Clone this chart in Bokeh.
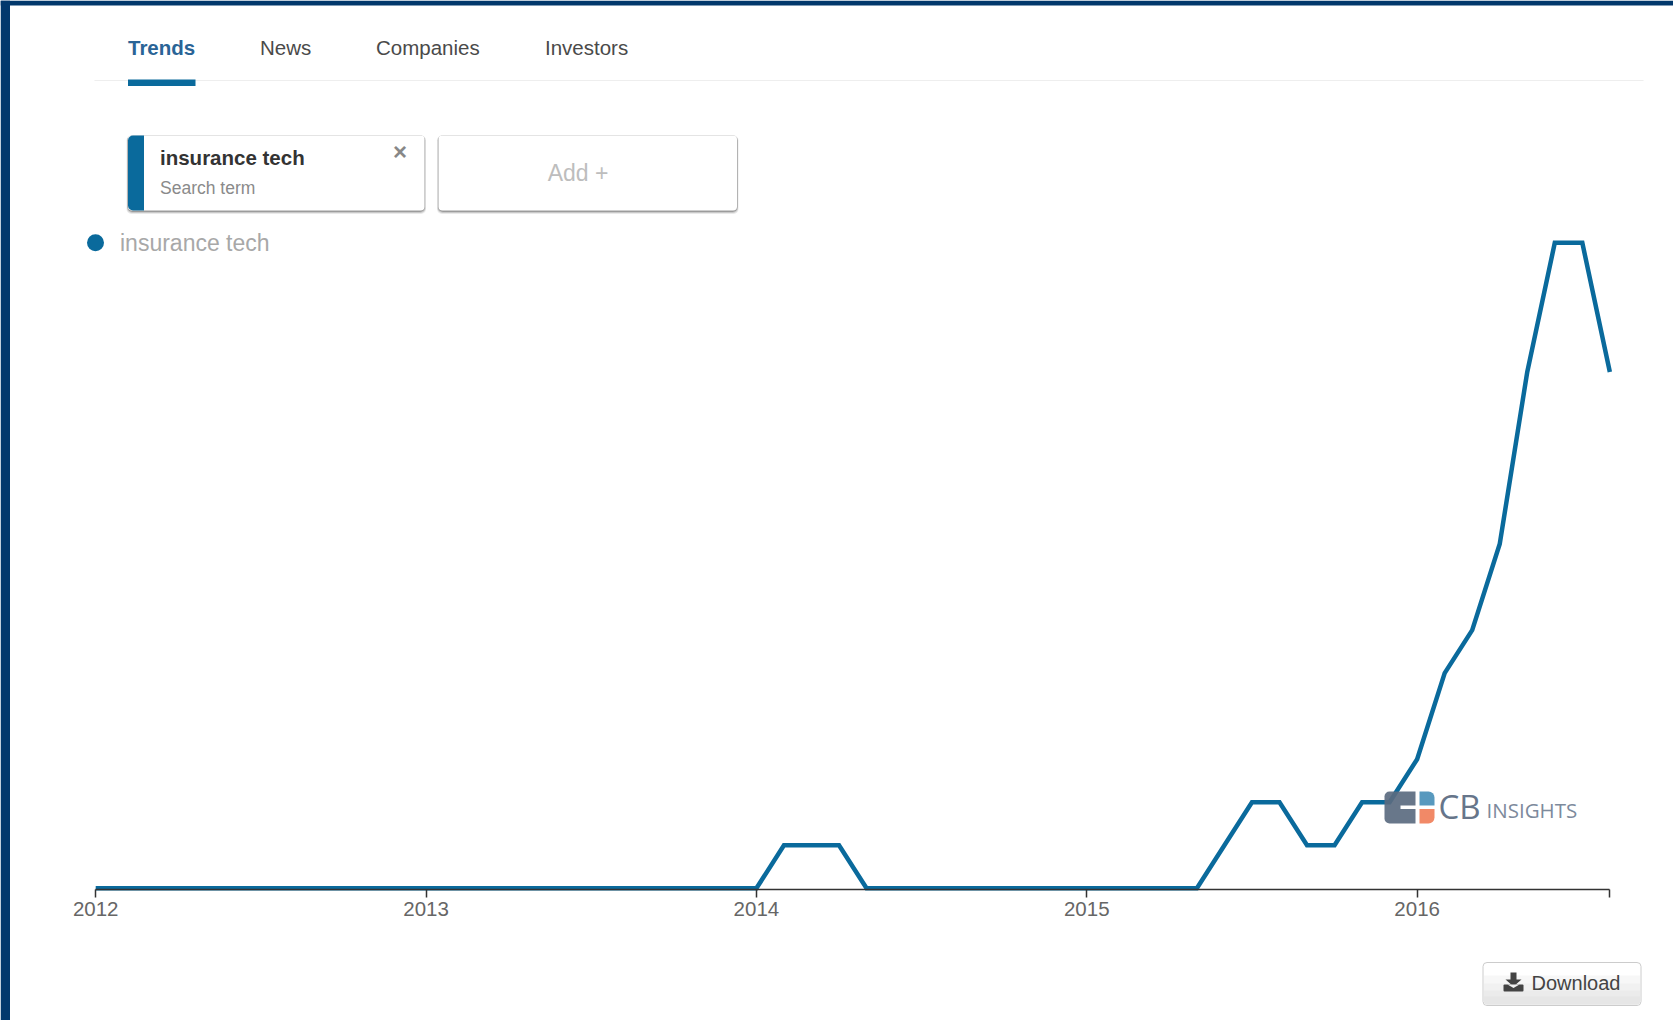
from bokeh.core.properties import value
from bokeh.embed import file_html
from bokeh.models import FixedTicker, LinearAxis, Range1d
from bokeh.plotting import figure
from bokeh.resources import INLINE

# Monthly search interest for "insurance tech", Jan 2012 to Aug 2016
interest_2012 = [0] * 12
interest_2013 = [0] * 12
interest_2014 = [0, 1, 1, 1, 0, 0, 0, 0, 0, 0, 0, 0]
interest_2015 = [0, 0, 0, 0, 0, 1, 2, 2, 1, 1, 2, 2]
interest_2016 = [3, 5, 6, 8, 12, 15, 15, 12]
interest = interest_2012 + interest_2013 + interest_2014 + interest_2015 + interest_2016
months = list(range(len(interest)))

year_labels = ["2012", "2013", "2014", "2015", "2016"]
year_ticks = [0, 12, 24, 36, 48]
series_name = "insurance tech"
nav_labels = ["Trends", "News", "Companies", "Investors"]

W, H = 1673, 1020
FONT = value("Liberation Sans")
BLUE = "#0a6a9c"
NAVY = "#02386c"

# Plot scale: pixels per month and per unit of interest
ORIGIN_X, ORIGIN_Y = 95.2, 887.8
PX_MONTH, PX_UNIT = 27.53, 43.03

p = figure(
    width=W, height=H, output_backend="svg", toolbar_location=None,
    x_axis_type=None, y_axis_type=None,
    x_range=Range1d(-ORIGIN_X / PX_MONTH, (W - ORIGIN_X) / PX_MONTH),
    y_range=Range1d((ORIGIN_Y - H) / PX_UNIT, ORIGIN_Y / PX_UNIT),
    min_border=0, outline_line_color=None, background_fill_color="#ffffff",
    border_fill_color="#ffffff",
)
p.grid.visible = False
p.extra_x_ranges["page"] = Range1d(0, W)
p.extra_y_ranges["page"] = Range1d(H, 0)
PAGE = dict(x_range_name="page", y_range_name="page")


def box(left, right, top, bottom, color, alpha=1.0, radius=0, line=None):
    p.quad(left=[left], right=[right], top=[top], bottom=[bottom],
           fill_color=color, fill_alpha=alpha, line_color=line,
           border_radius=radius, **PAGE)


def label(x, y, text, size, color, bold=False, align="left", font=FONT):
    p.text(x=[x], y=[y], text=[text], text_font=font, text_font_size=f"{size}px",
           text_color=color, text_align=align, text_baseline="middle",
           text_font_style="bold" if bold else "normal", **PAGE)


# Page frame
box(0, W, 0, 5, NAVY)
box(0, 9.5, 0, H, NAVY)

# Navigation tabs
for name, x in zip(nav_labels, [127.5, 259.5, 375.5, 544.5]):
    active = name == "Trends"
    label(x, 46.5, name, 20.5, "#2a6496" if active else "#4a4a4a", bold=active)
box(94, 1643, 79.5, 80.5, "#eeeeee")
box(127.5, 195, 79, 85.5, BLUE)


# Search term cards with a soft drop shadow
def card(left, right):
    for grow, alpha in ((3.0, 0.12), (2.0, 0.22), (1.0, 0.38)):
        box(left - grow / 2, right + grow / 2, 135, 210.5 + grow, "#555555", alpha, 5)
    box(left, right, 135, 210, "#ffffff", radius=4)


card(127.5, 424)
card(438, 736.5)
box(127.5, 143.5, 135, 210, BLUE, radius=(5, 0, 0, 5))
label(159.5, 156.5, series_name, 20.5, "#333333", bold=True)
label(159.5, 187, "Search term", 17.5, "#8a8a8a")
label(399.5, 151, "\u00d7", 24, "#888888", bold=True, align="center")
label(577.5, 172, "Add +", 23, "#bdbdbd", align="center")

# Legend entry
p.scatter(x=[95], y=[242.2], size=17, marker="circle", fill_color=BLUE,
          line_color=None, **PAGE)
label(119.5, 242, series_name, 23, "#a8a8a8")

# Trend line and time axis
axis = LinearAxis(
    fixed_location=-0.03, bounds=(0, months[-1]),
    ticker=FixedTicker(ticks=year_ticks + [months[-1]]),
    major_label_overrides={**dict(zip(year_ticks, year_labels)), months[-1]: ""},
    axis_line_color="#333333", axis_line_width=1.5,
    major_tick_line_color="#333333", major_tick_line_width=1.5,
    major_tick_in=0, major_tick_out=8, minor_tick_line_color=None,
    major_label_text_font="Liberation Sans", major_label_text_font_size="20.5px",
    major_label_text_color="#666666", major_label_standoff=4,
)
p.add_layout(axis, "below")
p.line(months, interest, line_color=BLUE, line_width=4.5, line_join="miter")

# Watermark logo, laid over the line
box(1384, 1415, 791, 823, "#5b6b80", 0.92, (5, 0, 0, 5))
box(1400, 1416, 805, 808.5, "#ffffff")
box(1419, 1434, 791, 805, "#4a90b8", 0.92, (0, 6, 0, 0))
box(1419, 1434, 808.5, 823, "#f07f5a", 0.92, (0, 0, 6, 0))
label(1438, 805.5, "CB", 33, "#66758a", font=value("Open Sans"))
label(1486, 809, "INSIGHTS", 20.5, "#7d8a9c", font=value("Open Sans"))

# Download button
box(1482.5, 1640.5, 962, 1005, "#ffffff", radius=4, line="#cccccc")
for top, shade in zip([975, 983, 990, 996], ["#f7f7f7", "#f1f1f1", "#ebebeb", "#e6e6e6"]):
    box(1483.5, 1639.5, top, 1004, shade, radius=(0, 0, 3, 3))
p.patch(x=[1510, 1516, 1516, 1521, 1513, 1505, 1510],
        y=[972, 972, 979, 979, 986, 979, 979], fill_color="#444444", line_color=None, **PAGE)
box(1503, 1523, 984, 991, "#444444", radius=1)
p.patch(x=[1507, 1513, 1519], y=[984, 987.5, 984], fill_color="#f1f1f1", line_color=None, **PAGE)
label(1531, 982, "Download", 20, "#444444")

open("out.html", "w").write(file_html(p, INLINE))
